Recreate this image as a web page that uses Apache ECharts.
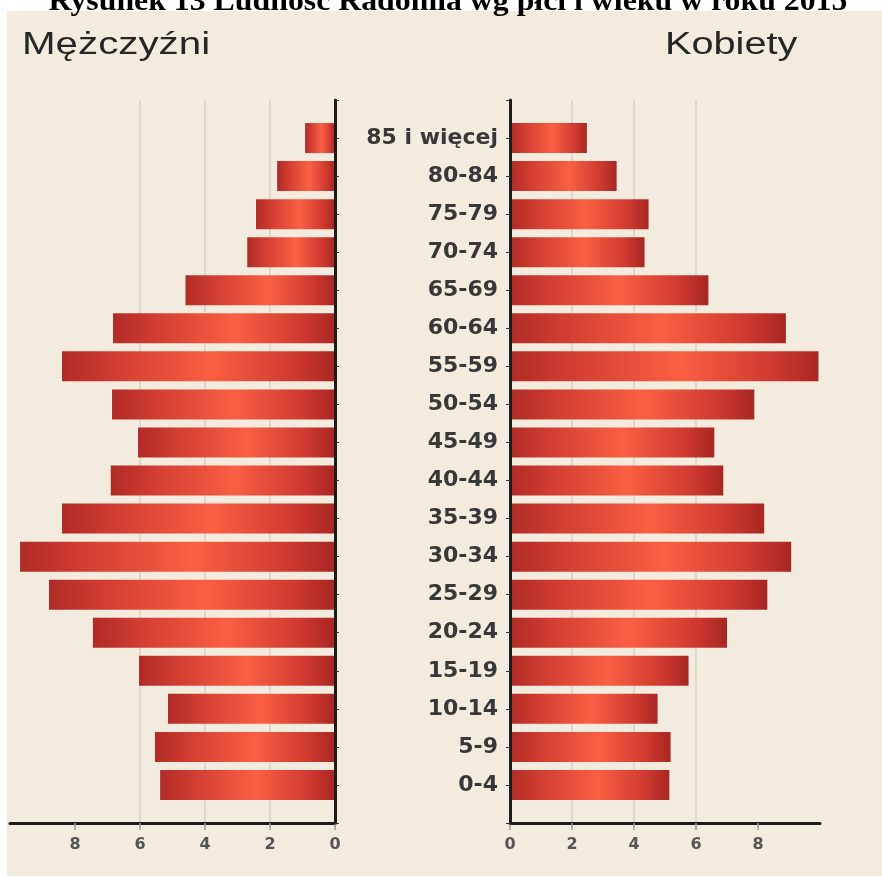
<!DOCTYPE html>
<html>
<head>
<meta charset="utf-8">
<title>Ludność Radomia wg płci i wieku</title>
<script src="https://cdn.jsdelivr.net/npm/echarts@6/dist/echarts.min.js"></script>
<style>
  html, body { margin: 0; padding: 0; background: #fff; }
  #chart { width: 882px; height: 877px; }
</style>
</head>
<body>
<div id="chart"></div>
<script>
// grupy wieku, od najmłodszej (dół) do najstarszej (góra)
const ageGroups = ['0-4', '5-9', '10-14', '15-19', '20-24', '25-29', '30-34', '35-39', '40-44',
  '45-49', '50-54', '55-59', '60-64', '65-69', '70-74', '75-79', '80-84', '85 i więcej']
// odsetek ludności (%)
const men = [5.38, 5.54, 5.14, 6.03, 7.45, 8.8, 9.69, 8.4, 6.9, 6.06, 6.86, 8.4, 6.83, 4.6, 2.7, 2.43, 1.78, 0.92]
const women = [5.14, 5.18, 4.76, 5.76, 7.0, 8.3, 9.07, 8.2, 6.88, 6.59, 7.88, 9.95, 8.9, 6.4, 4.34, 4.47, 3.44, 2.48]
const tickValues = [0, 2, 4, 6, 8]

// puste miejsce (pół pasma) nad i pod słupkami
const axisCats = [''].concat(ageGroups, [''])
const pad = arr => [null].concat(arr, [null])

const barColor = new echarts.graphic.LinearGradient(0, 0, 1, 0, [
  { offset: 0, color: '#b02b26' },
  { offset: 0.18, color: '#cf3c31' },
  { offset: 0.55, color: '#fb5f43' },
  { offset: 0.85, color: '#cf3a30' },
  { offset: 1, color: '#a82623' }
])

const valueAxis = (gridIndex, inverse) => ({
  type: 'value',
  gridIndex,
  inverse,
  min: 0,
  max: 10,
  interval: 2,
  axisLine: { show: true, onZero: false, lineStyle: { color: '#1c1c1c', width: 3 } },
  axisTick: { show: true, length: 7, customValues: tickValues, lineStyle: { color: '#999', width: 1.5 } },
  axisLabel: {
    customValues: tickValues,
    margin: 14,
    color: '#555',
    fontFamily: 'DejaVu Sans',
    fontWeight: 'bold',
    fontSize: 16
  },
  splitLine: {
    show: true,
    showMinLine: false,
    showMaxLine: false,
    lineStyle: { color: '#dcd7d0', width: 2 }
  }
})

const catAxis = (gridIndex, position, showLabel) => ({
  type: 'category',
  gridIndex,
  position,
  data: axisCats,
  boundaryGap: false,
  z: 3,
  axisLine: { show: true, onZero: false, lineStyle: { color: '#1c1c1c', width: 3 } },
  axisTick: { show: true, length: 4, lineStyle: { color: '#333', width: 1 } },
  axisLabel: {
    show: showLabel,
    margin: 12,
    color: '#383838',
    fontFamily: 'DejaVu Sans',
    fontWeight: 'bold',
    fontSize: 22
  }
})

const chart = echarts.init(document.getElementById('chart'))
chart.setOption({
  backgroundColor: '#fff',
  animation: false,
  graphic: [
    { type: 'rect', z: -10, shape: { x: 7, y: 11, width: 875, height: 865 }, style: { fill: '#f4ebdf' } },
    {
      type: 'text', x: 448, y: 17, scaleX: 1.06,
      style: {
        text: 'Rysunek 13 Ludność Radomia wg płci i wieku w roku 2015',
        x: 0, y: 0, align: 'center', verticalAlign: 'bottom',
        font: 'bold 30px "Liberation Serif"', fill: '#000'
      }
    },
    {
      type: 'text', x: 22, y: 45, scaleX: 1.3,
      style: { text: 'Mężczyźni', x: 0, y: 0, verticalAlign: 'middle', font: '31px "Liberation Sans"', fill: '#262626' }
    },
    {
      type: 'text', x: 665, y: 45, scaleX: 1.28,
      style: { text: 'Kobiety', x: 0, y: 0, verticalAlign: 'middle', font: '31px "Liberation Sans"', fill: '#262626' }
    }
  ],
  grid: [
    { left: 10, right: 547, top: 100, bottom: 54 },
    { left: 510, right: 62, top: 100, bottom: 54 }
  ],
  xAxis: [valueAxis(0, true), valueAxis(1, false)],
  yAxis: [catAxis(0, 'right', false), catAxis(1, 'left', true)],
  series: [
    {
      name: 'Mężczyźni',
      type: 'bar',
      xAxisIndex: 0,
      yAxisIndex: 0,
      barWidth: 30,
      data: pad(men),
      itemStyle: { color: barColor }
    },
    {
      name: 'Kobiety',
      type: 'bar',
      xAxisIndex: 1,
      yAxisIndex: 1,
      barWidth: 30,
      data: pad(women),
      itemStyle: { color: barColor }
    }
  ]
})
</script>
</body>
</html>
